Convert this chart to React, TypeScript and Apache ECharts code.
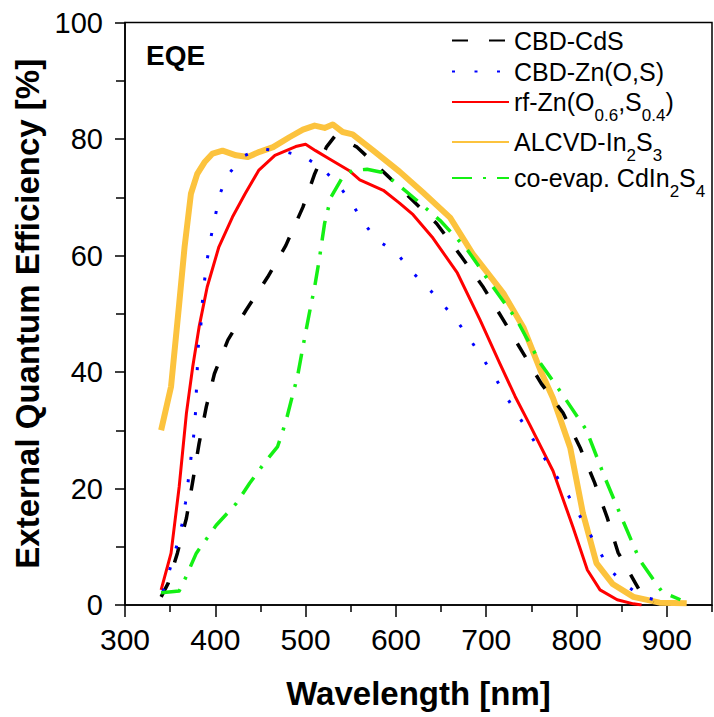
import React, { useEffect, useRef } from 'react';
import * as echarts from 'echarts';

const FONT = "'Liberation Sans', Arial, Helvetica, sans-serif";

// Axis ticks
const xMajorTicks = [300, 400, 500, 600, 700, 800, 900];
const xMinorTicks = [350, 450, 550, 650, 750, 850, 950];
const yTicks = [0, 20, 40, 60, 80, 100];

// CBD-CdS
const cdsX = [340, 348, 358, 368, 375, 382, 390, 399, 414, 434, 458, 478, 497, 510, 523, 532, 540, 557, 590, 615, 645, 673, 697, 719, 741, 761, 785, 804, 820, 834, 846, 865, 874, 885];
const cdsY = [1.4, 3.8, 8.9, 14.9, 21.2, 27.7, 34, 39.7, 45.5, 50.6, 56.3, 61.7, 68.3, 74, 78.6, 80.4, 80, 78.6, 73.8, 70, 65.5, 59.7, 54.5, 48.9, 43.2, 38, 33, 27, 21, 15, 9, 3.8, 1.4, 0.4];

// CBD-Zn(O,S)
const znosX = [342, 350, 357, 363, 367, 370, 373, 376, 378, 379.5, 381, 384, 385.5, 388, 391, 395, 400, 405, 413, 430, 449, 475, 498, 518, 536, 551, 564, 578, 601, 617, 634, 651, 668, 682, 696, 710, 722, 735, 748, 761, 775, 788, 800, 812, 824, 836, 851, 873, 898];
const znosY = [2.3, 6.3, 10, 13.8, 17.6, 21.3, 25.2, 29, 32.9, 38.5, 44.2, 48, 51.7, 55.6, 59.3, 63, 66.8, 70.5, 73.6, 77, 78.3, 77.9, 77, 75, 72.2, 69, 65.7, 62.8, 60.4, 57.3, 54.7, 51.8, 48.7, 45.6, 42.4, 39, 35.8, 32.6, 29.5, 26, 22.8, 19.6, 16.3, 13, 9.6, 6.3, 3.8, 1.4, 0.5];

// rf-Zn(O0.6,S0.4)
const rfX = [340, 351, 360, 368, 375, 382, 391, 404, 419, 433, 448, 466, 489, 500, 511, 526, 548, 560, 586, 604, 619, 641, 668, 693, 715, 732, 748, 774, 796, 812, 826, 845, 863, 872];
const rfY = [2.6, 8.9, 20.3, 32.9, 40.9, 47.7, 54.6, 61.5, 66.6, 70.6, 74.6, 77.2, 78.7, 79.1, 78, 76.6, 74.6, 73, 71.2, 69, 67, 63, 57, 49, 41.5, 35.8, 31, 23, 13.4, 6, 2.6, 0.9, 0.2, 0];

// ALCVD-In2S3
const alcvdX = [340, 351, 360, 366, 373, 380, 388, 397, 408, 423, 436, 449, 464, 482, 497, 510, 521, 530, 541, 552, 575, 604, 630, 660, 685, 719, 741, 760, 774, 793, 807, 822, 840, 863, 892, 922];
const alcvdY = [30, 37.5, 51.7, 61.5, 70.6, 74, 76, 77.5, 78, 77.2, 76.9, 77.8, 78.6, 80.3, 81.6, 82.3, 81.9, 82.5, 81.2, 80.8, 78, 74.4, 70.8, 66.5, 60.3, 53.5, 47.7, 40.3, 35.5, 27, 15.8, 7.2, 3.6, 1.4, 0.4, 0.3];

// co-evap. CdIn2S4
const coevX = [340, 360, 366, 379, 401, 423, 438, 454, 469, 478, 486, 491, 497, 504, 510, 515, 521, 528, 541, 552, 568, 584, 599, 619, 649, 679, 708, 734, 760, 785, 811, 831, 851, 870, 895, 915];
const coevY = [2.1, 2.4, 4.3, 8.9, 13.7, 17.4, 20.9, 24.3, 27.2, 31.4, 36.3, 39.2, 44.3, 50, 54.6, 59.2, 65.5, 70, 73.5, 74.6, 74.8, 74.3, 72.6, 70, 66, 61, 54.5, 48.9, 41.5, 36, 30, 22, 14.6, 7.7, 2.2, 0.9];

const seriesNames = ['CBD-CdS', 'CBD-Zn(O,S)', 'rf-Zn(O0.6,S0.4)', 'ALCVD-In2S3', 'co-evap. CdIn2S4'];
const legendLabels = ['CBD-CdS', 'CBD-Zn(O,S)', 'rf-Zn(O{s|0.6},S{s|0.4})', 'ALCVD-In{s|2}S{s|3}', 'co-evap. CdIn{s|2}S{s|4}'];

const zip = (xs: number[], ys: number[]) => xs.map((x, i) => [x, ys[i]]);

export default function App() {
  const ref = useRef<HTMLDivElement>(null);

  useEffect(() => {
    document.body.style.margin = '0';
    if (!ref.current) return;
    const chart = echarts.init(ref.current, null, { renderer: 'svg' });

    const styles: Record<string, any> = {
      'CBD-CdS': { color: '#000000', width: 3.5, type: [16, 21], data: zip(cdsX, cdsY), z: 4 },
      'CBD-Zn(O,S)': { color: '#0000FF', width: 3, type: [3, 19.5], data: zip(znosX, znosY), z: 5 },
      'rf-Zn(O0.6,S0.4)': { color: '#FF0000', width: 3, type: 'solid', data: zip(rfX, rfY), z: 3 },
      'ALCVD-In2S3': { color: '#FCC33E', width: 6, type: 'solid', data: zip(alcvdX, alcvdY), z: 2 },
      'co-evap. CdIn2S4': { color: '#14F014', width: 3.5, type: [20, 11, 3, 11], data: zip(coevX, coevY), z: 6 },
    };

    const legendTops = [26, 57, 80, 120, 156];

    const axisLineStyle = { color: '#000', width: 1.5 };

    const option: any = {
      animation: false,
      backgroundColor: '#fff',
      grid: {
        left: 125, right: 2, top: 22.5, bottom: 112,
        show: true, borderColor: '#000', borderWidth: 1.5,
        containLabel: false,
      },
      graphic: [
        {
          type: 'text', left: 146, top: 41,
          style: { text: 'EQE', font: `bold 28px ${FONT}`, fill: '#000' },
        },
      ],
      legend: seriesNames.map((n, i) => ({
        data: [n],
        left: 451,
        top: legendTops[i],
        orient: 'vertical',
        padding: 0,
        itemWidth: 57,
        itemHeight: 14,
        itemGap: 0,
        selectedMode: false,
        itemStyle: { opacity: 0 },
        formatter: () => legendLabels[i],
        textStyle: {
          fontFamily: FONT, fontSize: 25, lineHeight: 29, color: '#000',
          rich: {
            s: { fontFamily: FONT, fontSize: 17, lineHeight: 17, color: '#000', padding: [27, 0, 0, 0] },
          },
        },
      })),
      xAxis: [
        {
          type: 'value', min: 300, max: 950, position: 'bottom',
          axisLine: { show: true, lineStyle: axisLineStyle },
          axisTick: { show: true, inside: false, length: 12, customValues: xMajorTicks, lineStyle: axisLineStyle },
          axisLabel: { customValues: xMajorTicks, fontSize: 30, margin: 19, color: '#000', fontFamily: FONT },
          splitLine: { show: false },
          name: 'Wavelength [nm]', nameLocation: 'middle', nameGap: 72,
          nameTextStyle: { fontFamily: FONT, fontSize: 33, fontWeight: 'bold', color: '#000' },
        },
        {
          type: 'value', min: 300, max: 950, position: 'bottom',
          axisLine: { show: false },
          axisTick: { show: true, inside: false, length: 7, customValues: xMinorTicks, lineStyle: axisLineStyle },
          axisLabel: { show: false },
          splitLine: { show: false },
        },
      ],
      yAxis: {
        type: 'value', min: yTicks[0], max: yTicks[yTicks.length - 1], interval: 20,
        axisLine: { show: true, lineStyle: axisLineStyle },
        axisTick: { show: true, inside: false, length: 10, lineStyle: axisLineStyle },
        minorTick: { show: true, splitNumber: 2, length: 9, lineStyle: axisLineStyle },
        axisLabel: { fontSize: 29, margin: 22, color: '#000', fontFamily: FONT },
        splitLine: { show: false },
        minorSplitLine: { show: false },
        name: 'External Quantum Efficiency [%]', nameLocation: 'middle', nameGap: 78,
        nameTextStyle: { fontFamily: FONT, fontSize: 33, fontWeight: 'bold', color: '#000' },
      },
      series: ['ALCVD-In2S3', 'rf-Zn(O0.6,S0.4)', 'CBD-CdS', 'CBD-Zn(O,S)', 'co-evap. CdIn2S4'].map((n) => {
        const s = styles[n];
        return {
          name: n,
          type: 'line',
          xAxisIndex: 0,
          data: s.data,
          symbol: 'none',
          showSymbol: false,
          z: s.z,
          lineStyle: { color: s.color, width: s.width, type: s.type, cap: 'butt', join: 'round' },
          itemStyle: { color: s.color },
          emphasis: { disabled: true },
          clip: true,
        };
      }),
    };

    chart.setOption(option);
    return () => chart.dispose();
  }, []);

  return <div ref={ref} style={{ width: 714, height: 717 }} />;
}
